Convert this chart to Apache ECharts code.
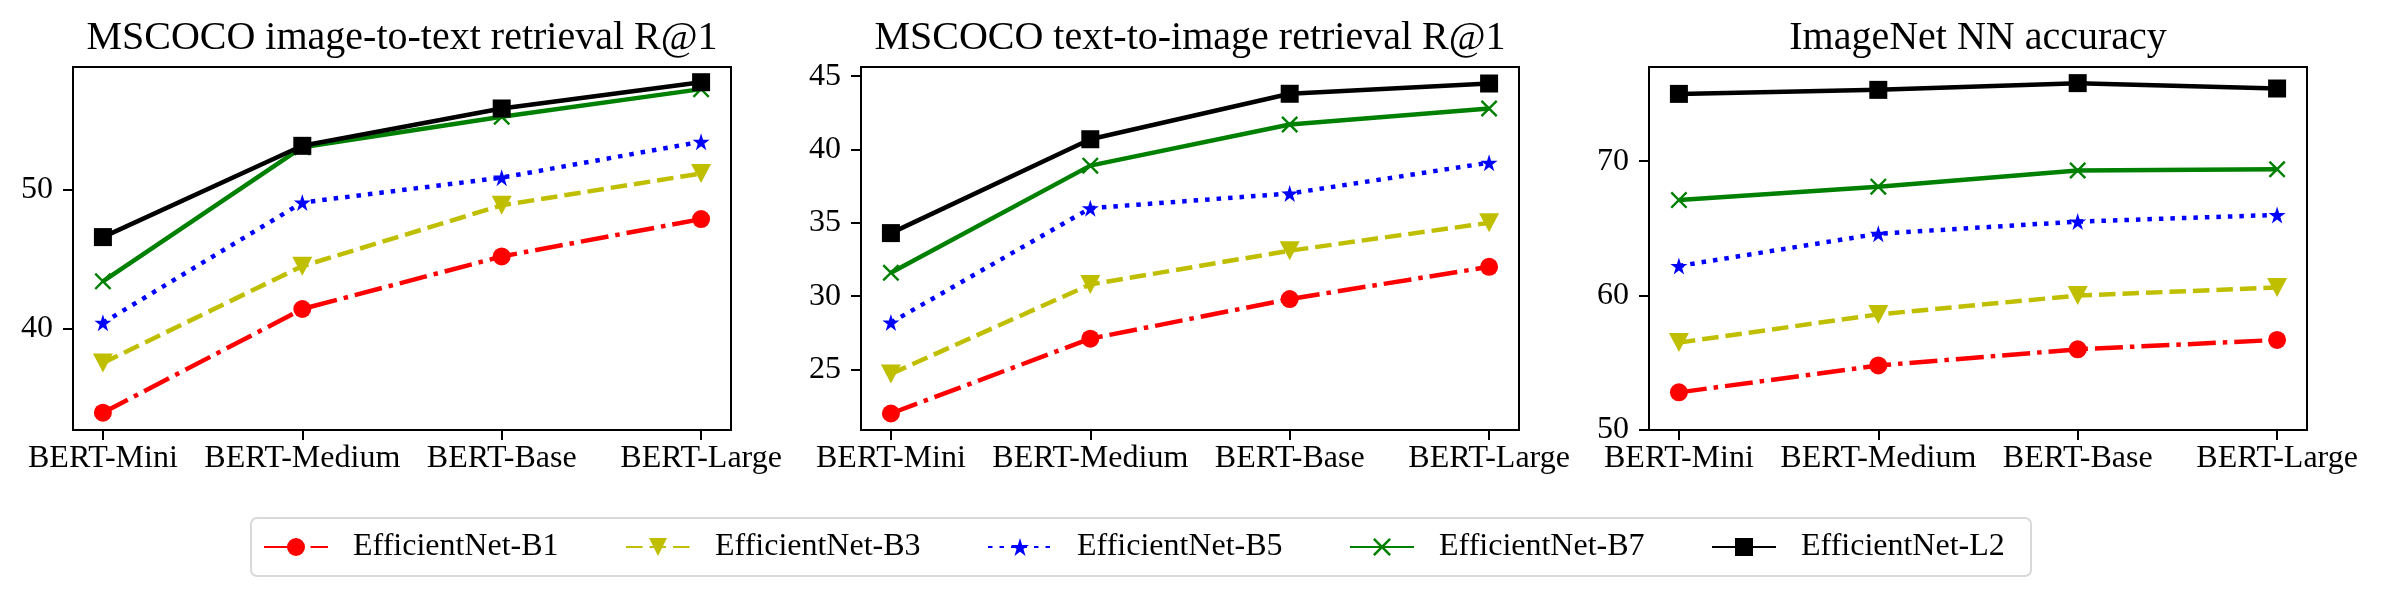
<!DOCTYPE html>
<html>
<head>
<meta charset="utf-8">
<script src="https://cdn.jsdelivr.net/npm/echarts@6.0.0/dist/echarts.min.js"></script>
<style>
html,body{margin:0;padding:0;background:#fff;}
#chart{width:2386px;height:599px;}
</style>
</head>
<body>
<div id="chart"></div>
<script>
// ---- data ----
const categories = ['BERT-Mini', 'BERT-Medium', 'BERT-Base', 'BERT-Large'];
const seriesNames = ['EfficientNet-B1', 'EfficientNet-B3', 'EfficientNet-B5', 'EfficientNet-B7', 'EfficientNet-L2'];
const panelTitles = ['MSCOCO image-to-text retrieval R@1', 'MSCOCO text-to-image retrieval R@1', 'ImageNet NN accuracy'];

// MSCOCO image-to-text R@1
const i2tB1 = [33.9, 41.4, 45.2, 47.9];
const i2tB3 = [37.5, 44.5, 48.9, 51.2];
const i2tB5 = [40.4, 49.1, 50.9, 53.5];
const i2tB7 = [43.4, 53.1, 55.3, 57.3];
const i2tL2 = [46.6, 53.2, 55.9, 57.8];

// MSCOCO text-to-image R@1
const t2iB1 = [22.0, 27.1, 29.8, 32.0];
const t2iB3 = [24.7, 30.8, 33.1, 35.0];
const t2iB5 = [28.2, 36.0, 37.0, 39.1];
const t2iB7 = [31.6, 38.9, 41.7, 42.8];
const t2iL2 = [34.3, 40.7, 43.8, 44.5];

// ImageNet NN accuracy
const inB1 = [52.8, 54.8, 56.0, 56.7];
const inB3 = [56.5, 58.6, 60.0, 60.6];
const inB5 = [62.2, 64.6, 65.5, 66.0];
const inB7 = [67.1, 68.1, 69.3, 69.4];
const inL2 = [75.0, 75.3, 75.8, 75.4];

// tick labels
const yTicks1 = [40, 50];
const yTicks2 = [25, 30, 35, 40, 45];
const yTicks3 = [50, 60, 70];
const xTicks = [0, 1, 2, 3];

// ---- layout / style ----
const panelData = [
  [i2tB1, i2tB3, i2tB5, i2tB7, i2tL2],
  [t2iB1, t2iB3, t2iB5, t2iB7, t2iL2],
  [inB1, inB3, inB5, inB7, inL2]
];
const yTickSets = [yTicks1, yTicks2, yTicks3];
const yRanges = [[32.65, 58.9], [20.875, 45.625], [50, 77.0]];
const gridLefts = [73, 861, 1649];
const gridW = 658, gridTop = 67, gridH = 363;
const FONT = "'Liberation Serif', 'Times New Roman', serif";

const starPath = 'path://M50 0 L61.23 34.55 L97.55 34.55 L68.16 55.9 L79.39 90.45 L50 69.1 L20.61 90.45 L31.84 55.9 L2.45 34.55 L38.77 34.55 Z';
const xPath = 'path://M0 10 L10 0 L50 40 L90 0 L100 10 L60 50 L100 90 L90 100 L50 60 L10 100 L0 90 L40 50 Z';
const LW = 4.5;
const seriesStyles = [
  {color: '#ff0000', symbol: 'circle', size: 18, rotate: 0, dash: [28, 7, 4.5, 7]},
  {color: '#bfbf00', symbol: 'triangle', size: [20, 19], rotate: 180, dash: [16.5, 7]},
  {color: '#0000ff', symbol: starPath, size: 17, rotate: 0, dash: [4.5, 7]},
  {color: '#008000', symbol: xPath, size: 17, rotate: 0, dash: 'solid'},
  {color: '#000000', symbol: 'rect', size: 18, rotate: 0, dash: 'solid'}
];

const grids = [], xAxes = [], yAxes = [], titles = [], series = [];
for (let p = 0; p < 3; p++) {
  grids.push({left: gridLefts[p], top: gridTop, width: gridW, height: gridH,
    show: true, borderColor: '#000', borderWidth: 2, backgroundColor: 'transparent'});
  titles.push({text: panelTitles[p], left: gridLefts[p] + gridW / 2, top: 18, textAlign: 'center', padding: 0,
    textStyle: {fontFamily: FONT, fontSize: 40, fontWeight: 'normal', color: '#000'}});
  xAxes.push({type: 'value', gridIndex: p, min: -0.15, max: 3.15,
    axisLine: {show: true, onZero: false, lineStyle: {color: '#000', width: 2}},
    axisTick: {show: true, inside: false, length: 10, lineStyle: {color: '#000', width: 2}, customValues: xTicks},
    axisLabel: {show: true, margin: 13, customValues: xTicks,
      fontFamily: FONT, fontSize: 32, fontWeight: 'normal', color: '#000',
      formatter: v => categories[Math.round(v)]},
    splitLine: {show: false}});
  yAxes.push({type: 'value', gridIndex: p, min: yRanges[p][0], max: yRanges[p][1],
    axisLine: {show: true, onZero: false, lineStyle: {color: '#000', width: 2}},
    axisTick: {show: true, inside: false, length: 10, lineStyle: {color: '#000', width: 2}, customValues: yTickSets[p]},
    axisLabel: {show: true, margin: 20, customValues: yTickSets[p],
      fontFamily: FONT, fontSize: 32, fontWeight: 'normal', color: '#000'},
    splitLine: {show: false}});
  for (let s = 0; s < 5; s++) {
    const st = seriesStyles[s];
    series.push({
      name: seriesNames[s], type: 'line', xAxisIndex: p, yAxisIndex: p,
      data: panelData[p][s].map((v, i) => [i, v]),
      symbol: st.symbol, symbolSize: st.size, symbolRotate: st.rotate, showAllSymbol: true,
      itemStyle: {color: st.color, borderWidth: 0},
      lineStyle: {color: st.color, width: LW, type: st.dash, cap: 'butt'},
      emphasis: {disabled: true}, z: 2 + s
    });
  }
}

const chart = echarts.init(document.getElementById('chart'), null, {renderer: 'canvas'});
chart.setOption({
  animation: false,
  backgroundColor: '#fff',
  textStyle: {fontFamily: FONT, color: '#000'},
  title: titles,
  grid: grids,
  xAxis: xAxes,
  yAxis: yAxes,
  legend: {
    data: seriesNames, left: 251, top: 518, orient: 'horizontal',
    padding: [13, 20, 13, 12], itemGap: 62, itemWidth: 64, itemHeight: 22.5,
    borderColor: '#d9d9d9', borderWidth: 2, borderRadius: 6, backgroundColor: '#fff',
    selectedMode: false,
    textStyle: {fontFamily: FONT, fontSize: 32, fontWeight: 'normal', color: '#000', width: 210, lineHeight: 28, padding: [0, 0, 0, 20]}
  },
  series: series
});
</script>
</body>
</html>
